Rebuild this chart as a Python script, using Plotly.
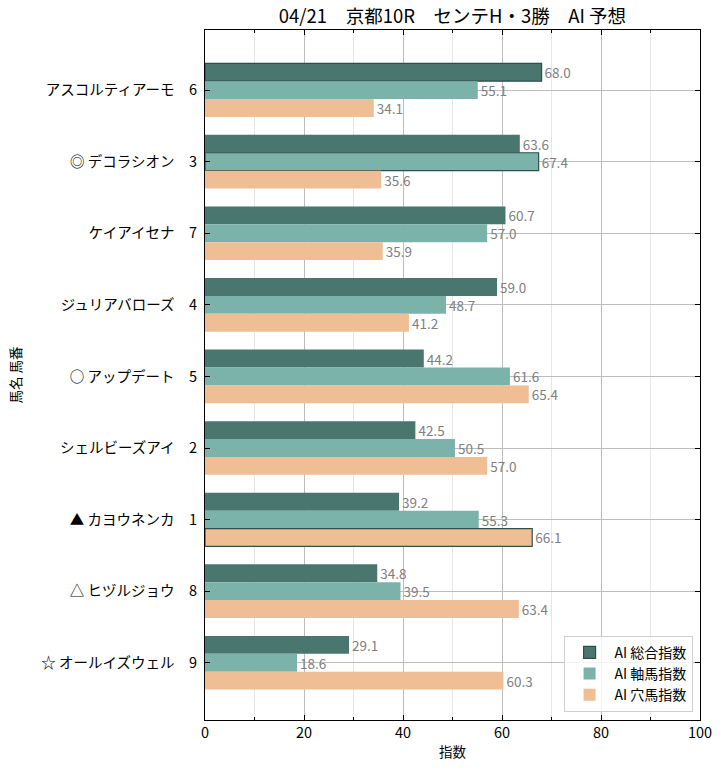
import plotly.graph_objects as go

horse_names = ["アスコルティアーモ", "◎ デコラシオン", "ケイアイセナ", "ジュリアバローズ",
               "○ アップデート", "シェルビーズアイ", "▲ カヨウネンカ", "△ ヒヅルジョウ",
               "☆ オールイズウェル"]
horse_numbers = ["6", "3", "7", "4", "5", "2", "1", "8", "9"]
sogo = [68.0, 63.6, 60.7, 59.0, 44.2, 42.5, 39.2, 34.8, 29.1]
jiku = [55.1, 67.4, 57.0, 48.7, 61.6, 50.5, 55.3, 39.5, 18.6]
ana = [34.1, 35.6, 35.9, 41.2, 65.4, 57.0, 66.1, 63.4, 60.3]
series_names = ["AI 総合指数", "AI 軸馬指数", "AI 穴馬指数"]
colors = ["#4a7670", "#7bb3ab", "#efbe94"]
x_ticks = [0, 20, 40, 60, 80, 100]

labels = [f"{n}　{k}" for n, k in zip(horse_names, horse_numbers)]
edge = "#2f4f4a"

fig = go.Figure()
for name, vals, col in zip(series_names, [sogo, jiku, ana], colors):
    mx = max(vals)
    lw = [1.2 if v == mx else 0 for v in vals]
    fig.add_trace(go.Bar(
        y=labels, x=vals, orientation="h", name=name,
        marker=dict(color=col, line=dict(color=edge, width=lw)),
        text=[f"{v:.1f}" for v in vals], textposition="outside",
        textfont=dict(color="#808080", size=13.5),
        constraintext="none", cliponaxis=False,
    ))

fig.update_layout(
    width=725, height=770,
    margin=dict(l=205, r=25, t=30, b=50),
    barmode="group", bargap=0.25, bargroupgap=0,
    plot_bgcolor="white", paper_bgcolor="white",
    font=dict(family="Noto Sans CJK JP", size=14.5, color="#000000"),
    title=dict(text="04/21　京都10R　センテH・3勝　AI 予想", x=0.624, xanchor="center",
               y=0.978, yanchor="middle", font=dict(size=18.5)),
    legend=dict(x=0.985, y=0.012, xanchor="right", yanchor="bottom",
                bgcolor="rgba(255,255,255,0.8)", bordercolor="#d0d0d0", borderwidth=1,
                font=dict(size=14), traceorder="normal", itemwidth=40),
)
fig.update_xaxes(
    range=[0, 100], tickvals=x_ticks, ticks="inside", ticklen=5, tickcolor="black",
    showline=True, linecolor="black", linewidth=1, mirror="ticks",
    showgrid=True, gridcolor="#bdbdbd", gridwidth=1,
    minor=dict(dtick=10, ticks="inside", ticklen=3, tickcolor="black", showgrid=True,
               gridcolor="#e6e6e6", gridwidth=1),
    zeroline=False, layer="above traces",
    title=dict(text="指数", font=dict(size=13.5), standoff=6),
)
fig.update_yaxes(
    range=[8.8, -0.84], ticks="inside", ticklen=5, tickcolor="black",
    showline=True, linecolor="black", linewidth=1, mirror="ticks",
    showgrid=True, gridcolor="#bdbdbd", gridwidth=1, layer="above traces",
    title=dict(text="馬名 馬番", font=dict(size=13.5), standoff=16),
    ticklabelstandoff=4,
)
fig.write_html("out.html")
